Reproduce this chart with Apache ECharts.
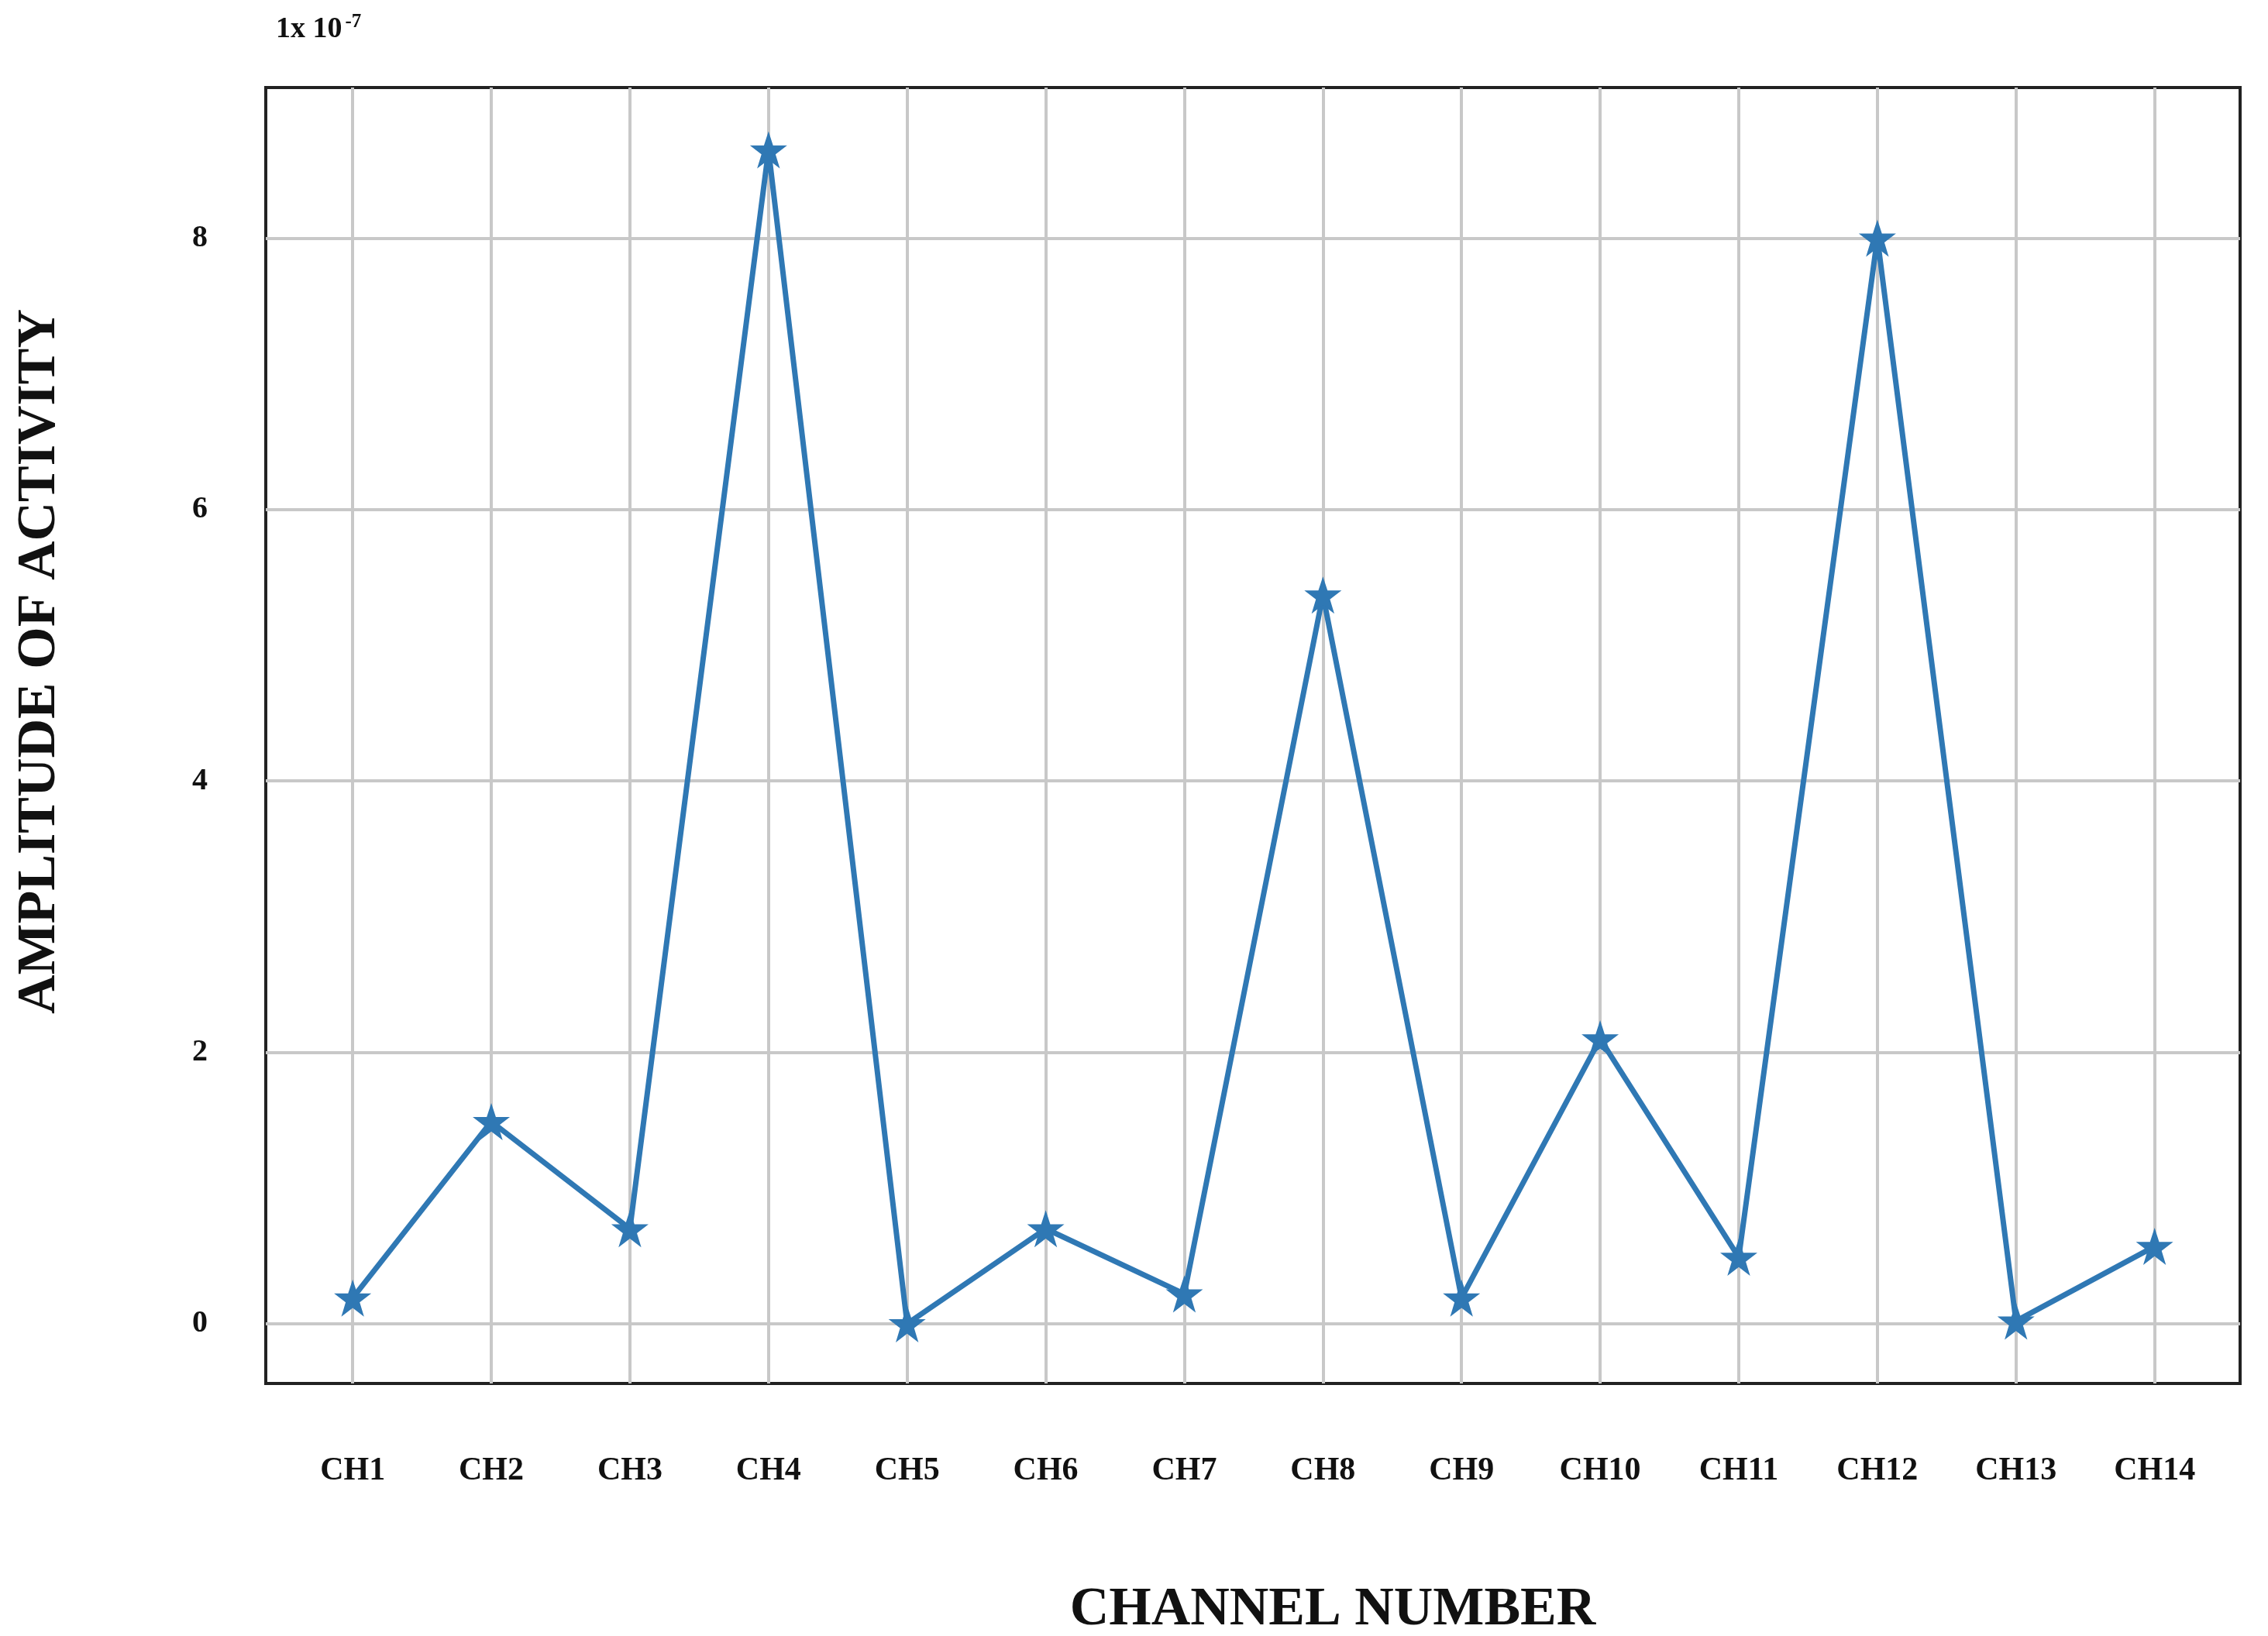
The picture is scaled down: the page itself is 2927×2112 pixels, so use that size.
<!DOCTYPE html>
<html><head><meta charset="utf-8">
<script src="https://cdn.jsdelivr.net/npm/echarts@6/dist/echarts.min.js"></script>
<style>html,body{margin:0;padding:0;background:#fff}#c{width:2927px;height:2112px}</style>
</head><body><div id="c"></div>
<script>
const categories = ['CH1','CH2','CH3','CH4','CH5','CH6','CH7','CH8','CH9','CH10','CH11','CH12','CH13','CH14'];
const amplitude = [0.19,1.49,0.70,8.65,0.0,0.70,0.22,5.37,0.19,2.10,0.49,8.0,0.02,0.57];
const yTicks = [0,2,4,6,8];
const xIdx = categories.map((c,i)=>i);
const font = 'Liberation Serif';
const gridColor = '#c8c8c8';
const chart = echarts.init(document.getElementById('c'));
chart.setOption({
  animation:false,
  backgroundColor:'#fff',
  grid:{left:343,right:36,top:113,bottom:326,show:true,borderColor:'#222',borderWidth:4,backgroundColor:'transparent'},
  xAxis:{type:'value',min:-0.627,max:13.617,
    axisLine:{show:false},splitLine:{show:false},
    axisTick:{show:true,customValues:xIdx,length:20,inside:false,lineStyle:{color:'#222',width:3}},
    axisLabel:{customValues:xIdx,margin:92,fontFamily:font,fontWeight:'bold',fontSize:42,color:'#111',
      formatter:v=>categories[Math.round(v)]}},
  yAxis:{type:'value',min:-0.44,max:9.11,
    axisLine:{show:false},splitLine:{show:false},axisTick:{show:false},
    axisLabel:{customValues:yTicks,margin:75,fontFamily:font,fontWeight:'bold',fontSize:40,color:'#111'}},
  series:[
    {type:'line',data:xIdx.map(i=>[i,null]),silent:true,symbol:'none',
     markLine:{silent:true,symbol:'none',label:{show:false},animation:false,
       lineStyle:{color:gridColor,width:4,type:'solid'},
       data:[...yTicks.map(v=>({yAxis:v})),...xIdx.map(v=>({xAxis:v}))]}},
    {type:'line',data:xIdx.map(i=>[i,amplitude[i]]),clip:false,z:5,
     symbol:'path://M50,0 L61.8,35.1 L98.1,35.1 L68.2,57.5 L79.4,93.1 L50,71.3 L20.6,93.1 L31.8,57.5 L1.9,35.1 L38.2,35.1 Z',
     symbolSize:48,lineStyle:{color:'#2f78b4',width:7},itemStyle:{color:'#2f78b4'}}
  ],
  graphic:[
    {type:'text',left:356,top:16,style:{text:'{a|1x 10}{b|-7}',rich:{a:{fontFamily:font,fontWeight:'bold',fontSize:38,fill:'#111'},b:{fontFamily:font,fontWeight:'bold',fontSize:25,fill:'#111',verticalAlign:'top',padding:[0,0,20,4]}}}},
    {type:'text',x:52,y:854,rotation:Math.PI/2,style:{text:'AMPLITUDE OF ACTIVITY',fontFamily:font,fontWeight:'bold',fontSize:70,fill:'#111',align:'center',verticalAlign:'middle'}},
    {type:'text',x:1720,y:2079,style:{text:'CHANNEL NUMBER',fontFamily:font,fontWeight:'bold',fontSize:70,fill:'#111',align:'center',verticalAlign:'middle'}}
  ]
});
</script></body></html>
